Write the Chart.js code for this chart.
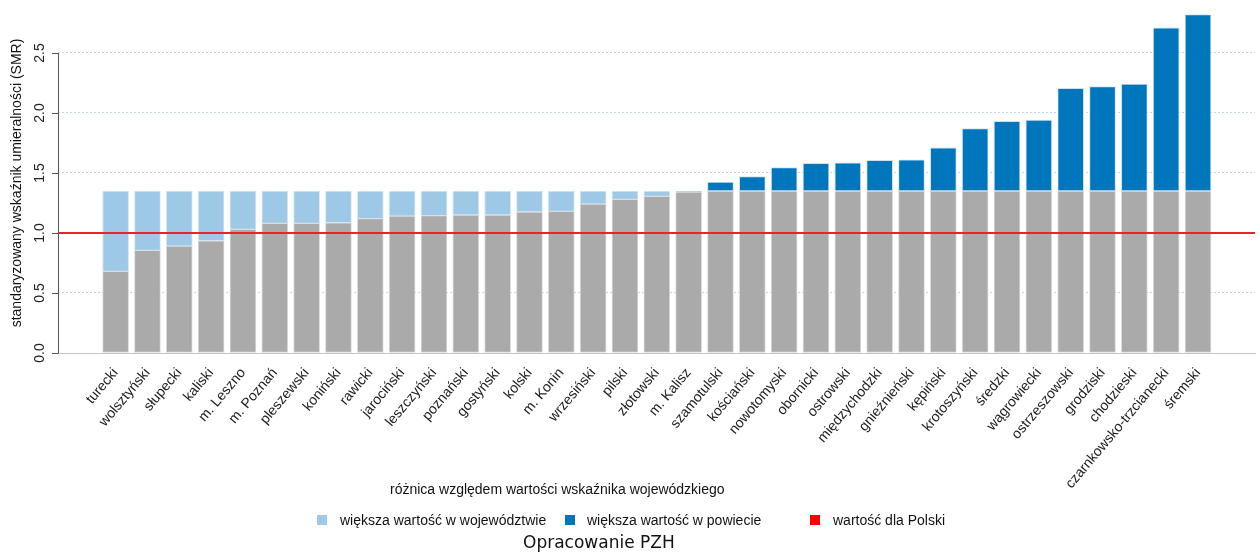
<!DOCTYPE html>
<html lang="pl">
<head>
<meta charset="utf-8">
<script src="https://cdn.jsdelivr.net/npm/chart.js@4.4.1/dist/chart.umd.min.js"></script>
<style>
  body { margin: 0; background: #fff; }
  #wrap { position: relative; width: 1260px; height: 553px; font-family: 'Liberation Sans', Arial, sans-serif; color: #111; }
  #wrap canvas { position: absolute; left: 0; top: 0; }
  .legend-title { position: absolute; left: 390px; top: 481px; font-size: 14px; white-space: nowrap; }
  .item { position: absolute; top: 511px; font-size: 14px; white-space: nowrap; line-height: 18px; }
  .box { position: absolute; top: 4px; width: 10px; height: 10px; }
  .credit { position: absolute; left: 523px; top: 532px; font-family: 'DejaVu Sans', sans-serif; font-size: 17px; white-space: nowrap; }
</style>
</head>
<body>
<div id="wrap">
  <canvas id="smrChart" width="1260" height="553"></canvas>
  <div class="legend-title">różnica względem wartości wskaźnika wojewódzkiego</div>
  <div class="item" style="left:317px"><span class="box" style="left:0;background:#9dc9e7"></span><span style="margin-left:23px">większa wartość w województwie</span></div>
  <div class="item" style="left:565px"><span class="box" style="left:0;background:#0076bd"></span><span style="margin-left:22px">większa wartość w powiecie</span></div>
  <div class="item" style="left:810px"><span class="box" style="left:0;background:#ff0000"></span><span style="margin-left:23px">wartość dla Polski</span></div>
  <div class="credit">Opracowanie PZH</div>
</div>
<script>
// powiaty woj. wielkopolskiego, SMR
const powiaty = ['turecki', 'wolsztyński', 'słupecki', 'kaliski', 'm. Leszno', 'm. Poznań', 'pleszewski',
  'koniński', 'rawicki', 'jarociński', 'leszczyński', 'poznański', 'gostyński', 'kolski', 'm. Konin',
  'wrzesiński', 'pilski', 'złotowski', 'm. Kalisz', 'szamotulski', 'kościański', 'nowotomyski', 'obornicki',
  'ostrowski', 'międzychodzki', 'gnieźnieński', 'kępiński', 'krotoszyński', 'średzki', 'wągrowiecki',
  'ostrzeszowski', 'grodziski', 'chodzieski', 'czarnkowsko-trzcianecki', 'śremski'];
const smr = [0.68, 0.855, 0.89, 0.935, 1.03, 1.08, 1.08, 1.085, 1.12, 1.14, 1.145, 1.15, 1.15, 1.175, 1.18,
  1.24, 1.28, 1.305, 1.34, 1.425, 1.47, 1.545, 1.58, 1.585, 1.605, 1.61, 1.71, 1.87, 1.93, 1.94,
  2.205, 2.22, 2.24, 2.71, 2.82];
const wojewodztwo = 1.35;
const polska = 1.0;
const yTicks = [0, 0.5, 1, 1.5, 2, 2.5];

const base = smr.map((v, i) => ({ x: i, y: Math.min(v, wojewodztwo) }));
const wojDiff = smr.map((v, i) => ({ x: i, y: Math.max(wojewodztwo - v, 0) }));
const powDiff = smr.map((v, i) => ({ x: i, y: Math.max(v - wojewodztwo, 0) }));

const font = { family: "'Liberation Sans', Arial, sans-serif", size: 14 };

const decorations = {
  id: 'decorations',
  afterDatasetsDraw(chart) {
    const { ctx, chartArea, scales: { y } } = chart;
    const py = y.getPixelForValue(polska);
    ctx.save();
    ctx.strokeStyle = '#e3262b';
    ctx.lineWidth = 2;
    ctx.beginPath();
    ctx.moveTo(chartArea.left, py);
    ctx.lineTo(chartArea.right, py);
    ctx.stroke();
    ctx.restore();
  },
  afterDraw(chart) {
    const { ctx, chartArea, scales: { y } } = chart;
    const x0 = chartArea.left;
    ctx.save();
    // y axis line only over the tick range
    ctx.strokeStyle = '#555';
    ctx.lineWidth = 1;
    ctx.beginPath();
    ctx.moveTo(x0 + 0.5, y.getPixelForValue(yTicks[0]));
    ctx.lineTo(x0 + 0.5, y.getPixelForValue(yTicks[yTicks.length - 1]));
    yTicks.forEach(t => {
      const p = Math.round(y.getPixelForValue(t)) + 0.5;
      ctx.moveTo(x0 - 6, p);
      ctx.lineTo(x0 + 0.5, p);
    });
    ctx.stroke();
    // rotated tick labels
    ctx.fillStyle = '#222';
    ctx.font = '14px ' + font.family;
    ctx.textAlign = 'center';
    ctx.textBaseline = 'middle';
    yTicks.forEach(t => {
      ctx.save();
      ctx.translate(40, y.getPixelForValue(t));
      ctx.rotate(-Math.PI / 2);
      ctx.fillText(t.toFixed(1), 0, 0);
      ctx.restore();
    });
    ctx.translate(17, (chartArea.top + chartArea.bottom) / 2);
    ctx.rotate(-Math.PI / 2);
    ctx.fillStyle = '#111';
    ctx.fillText('standaryzowany wskaźnik umieralności (SMR)', 0, 0);
    ctx.restore();
  }
};

const barStyle = { barThickness: 26, borderWidth: 1, borderColor: '#dcdcdc', borderSkipped: false };

new Chart(document.getElementById('smrChart'), {
  type: 'bar',
  data: {
    datasets: [
      { label: 'powiat', data: base, backgroundColor: '#aaaaaa', ...barStyle },
      { label: 'większa wartość w województwie', data: wojDiff, backgroundColor: '#9dc9e7', ...barStyle, borderColor: '#d6e8f4' },
      { label: 'większa wartość w powiecie', data: powDiff, backgroundColor: '#0076bd', ...barStyle, borderColor: '#cfe2ef' }
    ]
  },
  options: {
    responsive: false,
    animation: false,
    layout: { padding: { top: 13, right: 5, left: 0, bottom: 0 } },
    plugins: { legend: { display: false }, tooltip: { enabled: false } },
    scales: {
      x: {
        type: 'linear',
        stacked: true,
        offset: false,
        min: -1.81,
        max: powiaty.length - 1 + 1.79,
        afterFit: s => { s.height = 200; },
        grid: { display: false },
        border: { display: true, color: '#c4c4c4', width: 1 },
        ticks: {
          stepSize: 1,
          autoSkip: false,
          includeBounds: false,
          minRotation: 50,
          maxRotation: 50,
          padding: 4,
          color: '#222',
          font: font,
          callback: v => Number.isInteger(v) ? powiaty[v] : ''
        }
      },
      y: {
        stacked: true,
        min: 0,
        max: 2.833,
        afterFit: s => { s.width = 58; },
        border: { display: false, dash: [2, 2] },
        grid: { color: '#bcd6e6', drawTicks: false },
        ticks: { stepSize: 0.5, includeBounds: false, display: false }
      }
    }
  },
  plugins: [decorations]
});
</script>
</body>
</html>
